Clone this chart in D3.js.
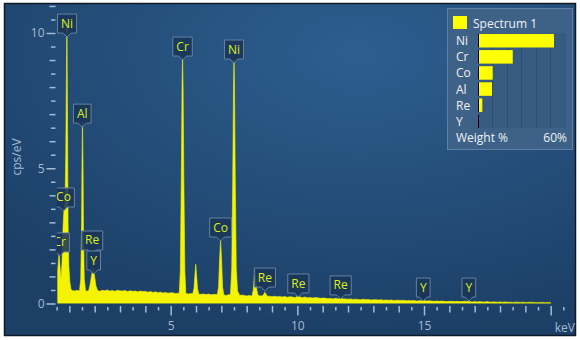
<!DOCTYPE html>
<html>
<head>
<meta charset="utf-8">
<title>Spectrum</title>
<script src="https://d3js.org/d3.v7.min.js"></script>
<style>
body { margin: 0; background: #fff; }
svg text { font-family: "Open Sans", "Noto Sans", sans-serif; }
</style>
</head>
<body>
<svg width="580" height="340"></svg>
<script>
// continuum, one value per 0.1 keV channel starting at 1.1 keV
var continuumStart = 1.1, continuumStep = 0.1;
var continuumCps = [
  0.48, 0.46, 0.49, 0.45, 0.47, 0.44, 0.46, 0.45, 0.47, 0.46,
  0.48, 0.45, 0.49, 0.47, 0.50, 0.46, 0.48, 0.45, 0.49, 0.47,
  0.46, 0.48, 0.44, 0.47, 0.45, 0.46, 0.43, 0.46, 0.44, 0.45,
  0.42, 0.44, 0.41, 0.43, 0.40, 0.42, 0.39, 0.41, 0.38, 0.40,
  0.39, 0.37, 0.38, 0.36, 0.38, 0.37, 0.35, 0.37, 0.36, 0.35,
  0.36, 0.34, 0.35, 0.33, 0.35, 0.32, 0.34, 0.33, 0.31, 0.33,
  0.32, 0.30, 0.33, 0.31, 0.30, 0.32, 0.29, 0.31, 0.30, 0.28,
  0.30, 0.28, 0.29, 0.27, 0.29, 0.28, 0.26, 0.28, 0.27, 0.25,
  0.27, 0.25, 0.26, 0.24, 0.26, 0.23, 0.25, 0.24, 0.22, 0.24,
  0.23, 0.22, 0.24, 0.21, 0.22, 0.20, 0.22, 0.21, 0.19, 0.20,
  0.20, 0.18, 0.19, 0.17, 0.19, 0.18, 0.16, 0.18, 0.17, 0.16,
  0.17, 0.15, 0.16, 0.15, 0.14, 0.16, 0.14, 0.15, 0.13, 0.14,
  0.14, 0.13, 0.14, 0.12, 0.13, 0.12, 0.13, 0.11, 0.12, 0.12,
  0.11, 0.12, 0.10, 0.11, 0.10, 0.11, 0.09, 0.10, 0.10, 0.11,
  0.09, 0.10, 0.09, 0.08, 0.09, 0.08, 0.09, 0.08, 0.07, 0.08,
  0.08, 0.07, 0.08, 0.07, 0.07, 0.08, 0.08, 0.07, 0.06, 0.07,
  0.06, 0.07, 0.06, 0.06, 0.07, 0.05, 0.06, 0.06, 0.05, 0.06,
  0.05, 0.06, 0.05, 0.05, 0.04, 0.05, 0.05, 0.04, 0.05, 0.04,
  0.04, 0.05, 0.04, 0.04, 0.03, 0.04, 0.04, 0.03, 0.04, 0.03
];

// peak profiles, [keV, cps/eV]
var peakLow = [[0.54,1.2],[0.57,1.6],[0.60,1.9],[0.63,1.4],[0.67,0.9],[0.71,1.5],[0.75,2.8],[0.79,3.5],[0.83,3.7],[0.86,5.5],[0.885,8.5],[0.905,10.4],[0.925,7.5],[0.95,3.0],[0.98,1.4],[1.02,0.8],[1.06,0.55]];
var peakAl = [[1.40,0.46],[1.45,0.9],[1.48,2.6],[1.50,5.2],[1.52,6.7],[1.54,5.2],[1.56,2.6],[1.59,0.9],[1.64,0.47]];
var peakReY = [[1.76,0.46],[1.82,0.7],[1.88,1.05],[1.94,1.3],[1.99,1.05],[2.05,0.65],[2.12,0.48]];
var peakCrKa = [[5.34,0.38],[5.38,1.2],[5.42,4.6],[5.45,8.1],[5.47,9.1],[5.49,8.1],[5.52,4.6],[5.56,1.2],[5.60,0.37]];
var peakCrKb = [[5.87,0.36],[5.92,0.55],[5.96,1.1],[5.99,1.45],[6.02,1.1],[6.06,0.55],[6.11,0.34]];
var peakCoKa = [[6.84,0.32],[6.89,0.6],[6.93,1.6],[6.97,2.35],[7.01,1.6],[7.05,0.6],[7.10,0.31]];
var peakNiKa = [[7.36,0.31],[7.41,1.3],[7.45,4.6],[7.48,8.0],[7.50,9.0],[7.52,8.0],[7.55,4.6],[7.59,1.3],[7.64,0.45],[7.67,0.42],[7.72,0.3]];
var peakNiKb = [[8.21,0.29],[8.26,0.5],[8.30,1.0],[8.33,1.25],[8.36,1.0],[8.40,0.5],[8.45,0.3]];
var peakReLa = [[8.62,0.28],[8.68,0.35],[8.72,0.42],[8.76,0.35],[8.82,0.27]];
var peakReLb = [[9.94,0.23],[10.00,0.27],[10.04,0.3],[10.09,0.26],[10.15,0.22]];
var peakReLg = [[11.62,0.17],[11.71,0.21],[11.80,0.17]];
var peakYKa = [[14.90,0.10],[14.97,0.13],[15.04,0.10]];

var lineNames = ["Ni","Co","Cr","Al","Re","Y","Cr","Co","Ni","Re","Re","Re","Y","Y"];
var lineKeV   = [0.91, 0.77, 0.62, 1.51, 1.90, 1.96, 5.47, 6.97, 7.50, 8.72, 10.04, 11.71, 14.97, 16.77];
var lineCps   = [9.85, 3.42, 1.76, 6.52, 1.83, 1.09, 9.00, 2.31, 8.89, 0.46, 0.24, 0.17, 0.09, 0.09];

var xTickLabels = [5, 10, 15];
var yTickLabels = [0, 5, 10];

var legendElements = ["Ni","Cr","Co","Al","Re","Y"];
var legendWeights  = [52.7, 24.1, 10.2, 9.7, 3.0, 0.5];

var svg = d3.select("svg");

// background panel
var defs = svg.append("defs");
var grad = defs.append("radialGradient").attr("id", "bg")
  .attr("cx", "62%").attr("cy", "15%").attr("r", "85%");
grad.append("stop").attr("offset", "0%").attr("stop-color", "#2d5e8f");
grad.append("stop").attr("offset", "100%").attr("stop-color", "#1c3f66");

svg.append("rect")
  .attr("x", 4.5).attr("y", 3.5).attr("width", 571).attr("height", 332)
  .attr("fill", "url(#bg)").attr("stroke", "#0d1a28").attr("stroke-width", 1.5);

defs.append("clipPath").attr("id", "plotclip")
  .append("rect").attr("x", 57).attr("y", 4).attr("width", 518).attr("height", 299.5);

var x = d3.scaleLinear().domain([0, 21]).range([44, 576]),
    y = d3.scaleLinear().domain([0, 10]).range([303.5, 33]);

// spectrum = continuum outside the peaks + peak profiles
var peaks = [peakLow, peakAl, peakReY, peakCrKa, peakCrKb, peakCoKa, peakNiKa, peakNiKb, peakReLa, peakReLb, peakReLg, peakYKa];
var continuum = continuumCps.map(function(c, i) { return [+(continuumStart + i * continuumStep).toFixed(2), c]; });
var spectrum = continuum.filter(function(d) {
  return !peaks.some(function(p) { return d[0] >= p[0][0] && d[0] <= p[p.length - 1][0]; });
});
peaks.forEach(function(p) { spectrum = spectrum.concat(p); });
spectrum.sort(function(a, b) { return a[0] - b[0]; });

var area = d3.area()
  .x(function(d) { return x(d[0]); })
  .y0(y(0))
  .y1(function(d) { return y(d[1]); });

var plot = svg.append("g").attr("clip-path", "url(#plotclip)");

plot.append("path")
  .datum([[spectrum[0][0], 0]].concat(spectrum))
  .attr("fill", "#f4f400")
  .attr("stroke", "#f4f400")
  .attr("stroke-width", 0.6)
  .attr("d", area);

// axes
var tickColor = "#a3bbd4";

var xAxis = svg.append("g")
  .attr("transform", "translate(0,306)")
  .call(d3.axisBottom(x)
    .tickValues(d3.range(0.5, 20.51, 0.5))
    .tickSize(6)
    .tickFormat(function(d) { return xTickLabels.indexOf(d) >= 0 ? d : ""; }));
xAxis.select(".domain").remove();
xAxis.selectAll(".tick line")
  .attr("stroke", tickColor).attr("stroke-width", 1.5)
  .attr("y1", function(d) { return d % 1 ? 1 : 0; })
  .attr("y2", function(d) { return d % 5 === 0 ? 9.5 : (d % 1 ? 4.5 : 6.5); });
xAxis.selectAll(".tick text")
  .attr("fill", tickColor).attr("y", 15).style("font-size", "12px");

svg.append("text")
  .attr("x", 575).attr("y", 332)
  .attr("text-anchor", "end")
  .attr("fill", tickColor).style("font-size", "12px")
  .text("keV");

var yAxis = svg.append("g")
  .attr("transform", "translate(55.5,0)")
  .call(d3.axisLeft(y)
    .tickValues(d3.range(0, 11.01, 0.5))
    .tickSize(6)
    .tickFormat(function(d) { return yTickLabels.indexOf(d) >= 0 ? d : ""; }));
yAxis.select(".domain").remove();
yAxis.selectAll(".tick line")
  .attr("stroke", tickColor).attr("stroke-width", 1.5)
  .attr("x2", function(d) { return yTickLabels.indexOf(d) >= 0 ? -9 : (d % 1 ? -4.5 : -6); });
yAxis.selectAll(".tick text")
  .attr("fill", tickColor).attr("x", -11).style("font-size", "12px");

svg.append("text")
  .attr("transform", "translate(21,157) rotate(-90)")
  .attr("text-anchor", "middle")
  .attr("fill", tickColor).style("font-size", "12px")
  .text("cps/eV");

// peak labels
var labelLayer = svg.append("g").attr("clip-path", "url(#plotclip)");
lineNames.forEach(function(name, i) {
  var cx = x(lineKeV[i]), ty = y(lineCps[i]);
  var g = labelLayer.append("g");
  var box = g.append("path");
  var t = g.append("text")
    .attr("x", cx).attr("y", ty - 4 - 5.5)
    .attr("text-anchor", "middle")
    .attr("fill", "#dcef1c").style("font-size", "12px")
    .text(name);
  var w = t.node().getComputedTextLength() + 7, h = 19;
  var left = cx - w / 2, right = cx + w / 2, bottom = ty - 4, top = bottom - h;
  box.attr("d", "M" + left + "," + top + "H" + right + "V" + bottom + "H" + (cx + 4) +
      "L" + cx + "," + ty + "L" + (cx - 4) + "," + bottom + "H" + left + "Z")
    .attr("fill", "rgba(26,54,88,0.88)")
    .attr("stroke", "#6482a4").attr("stroke-width", 1);
});

// legend
var lg = svg.append("g");
lg.append("rect")
  .attr("x", 447.5).attr("y", 8.5).attr("width", 125).attr("height", 141)
  .attr("fill", "#3e6187").attr("stroke", "#5e80a4");
lg.append("rect")
  .attr("x", 453).attr("y", 16).attr("width", 14).attr("height", 13)
  .attr("fill", "#ffff00");
lg.append("text")
  .attr("x", 473).attr("y", 28)
  .attr("fill", "#eef2f6").style("font-size", "12px")
  .text("Spectrum 1");

var wx = d3.scaleLinear().domain([0, 60]).range([478, 564.5]),
    wy = d3.scaleBand().domain(legendElements).range([33, 129]).paddingInner(0.16).paddingOuter(0.06);

lg.append("rect")
  .attr("x", 478).attr("y", 33).attr("width", 88).attr("height", 95)
  .attr("fill", "#365a80");
lg.selectAll(".grid")
  .data(d3.range(10, 60, 10))
  .enter().append("line")
  .attr("x1", function(d) { return Math.round(wx(d)) + 0.5; })
  .attr("x2", function(d) { return Math.round(wx(d)) + 0.5; })
  .attr("y1", 33).attr("y2", 128)
  .attr("stroke", "#2c4c70");

lg.selectAll(".wbar")
  .data(legendElements)
  .enter().append("rect")
  .attr("x", wx(0))
  .attr("y", function(d) { return wy(d); })
  .attr("width", function(d, i) { return wx(legendWeights[i]) - wx(0); })
  .attr("height", wy.bandwidth())
  .attr("fill", "#ffff00");
lg.selectAll(".wedge")
  .data(legendElements)
  .enter().append("line")
  .attr("x1", 478.5).attr("x2", 478.5)
  .attr("y1", function(d) { return wy(d); })
  .attr("y2", function(d) { return wy(d) + wy.bandwidth(); })
  .attr("stroke", "#000");

lg.selectAll(".wname")
  .data(legendElements)
  .enter().append("text")
  .attr("x", 456)
  .attr("y", function(d) { return wy(d) + wy.bandwidth() / 2 + 4.5; })
  .attr("fill", "#eef2f6").style("font-size", "12px")
  .text(function(d) { return d; });

lg.append("text")
  .attr("x", 456).attr("y", 142)
  .attr("fill", "#eef2f6").style("font-size", "12px")
  .text("Weight %");
lg.append("text")
  .attr("x", 567).attr("y", 142)
  .attr("text-anchor", "end")
  .attr("fill", "#eef2f6").style("font-size", "12px")
  .text("60%");
</script>
</body>
</html>
